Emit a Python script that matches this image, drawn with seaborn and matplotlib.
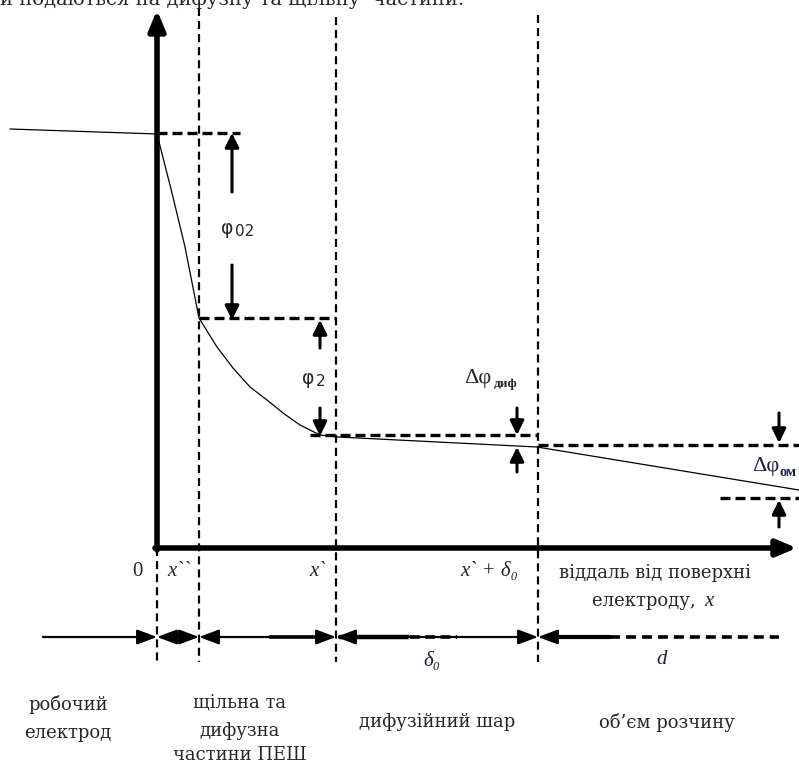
import matplotlib
matplotlib.use("Agg")
import matplotlib.pyplot as plt
import seaborn as sns

# --- data (pixel space of the schematic: x to the right, y downwards) ---
# potential profile phi(x)
curve_x = [10, 157, 172, 185, 199, 217, 233, 250, 267, 283, 300, 320, 338, 537, 799]
curve_y = [129, 134, 193, 247, 318, 347, 368, 387, 400, 413, 425, 435, 437, 447, 490]

# boundaries: 0, x``, x`, x` + delta0
boundary_x = [157, 199, 336, 538]
boundary_top = [548, 8, 17, 15]
boundary_bottom = 662

# potential levels (x_start, x_end, y)
level_x0 = [157, 199, 310, 538, 720]
level_x1 = [240, 336, 538, 799, 799]
level_y = [133, 318, 435, 445, 498]

# potential drop arrows (x, y_from, y_to)
drop_x = [232, 232, 320, 320, 517, 517, 779, 779]
drop_from = [192, 265, 348, 408, 408, 472, 413, 527]
drop_to = [133, 320, 320, 436, 435, 447, 443, 500]

# axis tick labels
tick_text = ["0", "x``", "x`", "x` + δ₀"]
tick_pos = [137, 179, 317, 489]

# regions under the axis (one entry per text line)
region_text = ["робочий", "електрод", "щільна та", "дифузна", "частини ПЕШ",
               "дифузійний шар", "об’єм розчину"]
region_pos = [68, 68, 240, 240, 240, 437, 667]
region_y = [705, 733, 703, 731, 755, 722, 722]

sns.set_style("white")
plt.rcParams["font.family"] = ["DejaVu Serif", "Liberation Serif"]
plt.rcParams["lines.scale_dashes"] = False

fig = plt.figure(figsize=(7.99, 7.64), dpi=100)
ax = fig.add_axes([0, 0, 1, 1])

# potential curve
sns.lineplot(x=curve_x, y=curve_y, ax=ax, color="black", lw=0.9,
             sort=False, estimator=None)

ax.set_xlim(0, 799)
ax.set_ylim(764, 0)
ax.axis("off")

# boundaries
for bx, bt in zip(boundary_x, boundary_top):
    ax.plot([bx, bx], [bt, boundary_bottom], color="black", lw=1.6,
            dashes=(5.8, 3.6))

# levels
for x0, x1, y in zip(level_x0, level_x1, level_y):
    ax.plot([x0, x1], [y, y], color="black", lw=2.4, dashes=(7.2, 3.6))

# axes with arrows
big = dict(arrowstyle="-|>,head_length=1.2,head_width=0.5", lw=4,
           color="black", shrinkA=0, shrinkB=0, mutation_scale=10)
ax.annotate("", xy=(157, 10), xytext=(157, 550), arrowprops=big)
ax.annotate("", xy=(797, 548), xytext=(155, 548), arrowprops=big)

# potential drop arrows
small = dict(arrowstyle="-|>,head_length=0.85,head_width=0.42", lw=2.2,
             color="black", shrinkA=0, shrinkB=0, mutation_scale=10)
for dx, y0, y1 in zip(drop_x, drop_from, drop_to):
    ax.annotate("", xy=(dx, y1), xytext=(dx, y0), arrowprops=small)

# labels of potential drops
ax.text(221, 228, "φ", family="DejaVu Sans", fontsize=13.5, va="center")
ax.text(235, 231, "02", family="DejaVu Sans", fontsize=11, va="center")
ax.text(302, 378, "φ", family="DejaVu Sans", fontsize=13.5, va="center")
ax.text(316, 381, "2", family="DejaVu Sans", fontsize=11, va="center")
ax.text(464, 378, "Δφ", family="Liberation Serif", fontsize=16, va="center")
ax.text(494, 384, "диф", family="Liberation Serif", fontsize=9.5,
        fontweight="bold", va="center")
ax.text(752, 467, "Δφ", family="Liberation Serif", fontsize=16, va="center",
        color="#1a2040")
ax.text(780, 473, "ом", family="Liberation Serif", fontsize=10.5,
        fontweight="bold", va="center", color="#1a2040")

# tick labels under the axis
for t, p in zip(tick_text, tick_pos):
    ax.text(p, 572, t, family="Liberation Serif", fontsize=15, ha="center",
            va="center", style="normal" if t == "0" else "italic")
ax.text(655, 573, "віддаль від поверхні", fontsize=13, ha="center", va="center")
ax.text(701, 601, "електроду, ", fontsize=13, ha="right", va="center")
ax.text(704, 601, "x", family="Liberation Serif", fontsize=15, style="italic",
        ha="left", va="center")
ax.text(432, 661, "δ₀", family="Liberation Serif", fontsize=15, style="italic",
        ha="center", va="center", color="#1a2040")
ax.text(662, 660, "d", family="Liberation Serif", fontsize=15, style="italic",
        ha="center", va="center", color="#1a2040")

# dimension line
dim = dict(lw=1.6, color="black", shrinkA=0, shrinkB=0, mutation_scale=10)
ax.annotate("", xy=(157, 637), xytext=(43, 637),
            arrowprops=dict(arrowstyle="-|>,head_length=1.2,head_width=0.45", **dim))
for a, b in [(157, 199), (199, 336), (336, 538)]:
    ax.annotate("", xy=(b, 637), xytext=(a, 637),
                arrowprops=dict(arrowstyle="<|-|>,head_length=1.2,head_width=0.45", **dim))
ax.plot([270, 330], [637, 637], color="black", lw=2.6)
ax.plot([340, 410], [637, 637], color="black", lw=3.2)
ax.plot([410, 457], [637, 637], color="white", lw=3.5)
ax.plot([410, 457], [637, 637], color="black", lw=2.6, dashes=(7, 4))
ax.annotate("", xy=(538, 637), xytext=(610, 637),
            arrowprops=dict(arrowstyle="-|>,head_length=1.2,head_width=0.45", **dim))
ax.plot([548, 610], [637, 637], color="black", lw=3)
ax.plot([610, 779], [637, 637], color="black", lw=2.6, dashes=(7.2, 4.3))

# region names
for t, p, y in zip(region_text, region_pos, region_y):
    ax.text(p, y, t, fontsize=13, ha="center", va="center")

# cut-off line of text from the page above (only its lower edge is on the page)
ax.text(0, 5, "и подаються на дифузну та щільну  частини.", fontsize=14,
        ha="left", va="baseline")

fig.savefig("out.png", dpi=100)
